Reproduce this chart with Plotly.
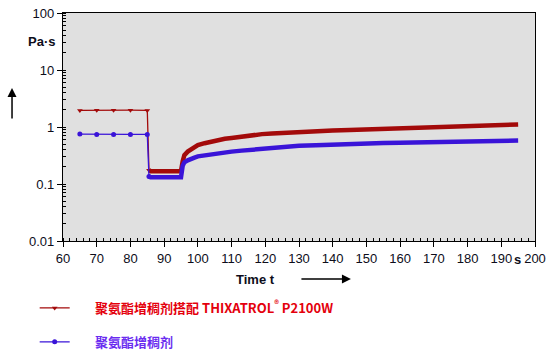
import plotly.graph_objects as go

# ---- data ----
t_sparse = [65, 70, 75, 80, 85]
red_sparse = [1.95, 1.97, 1.97, 1.97, 1.95]
blue_sparse = [0.75, 0.74, 0.74, 0.74, 0.74]

t_dense = [85.5, 86, 88, 90, 92, 94, 95, 95.5, 96, 97, 98, 99, 100, 102, 104, 106, 108, 110,
           113, 116, 119, 122, 125, 130, 135, 140, 145, 150, 155, 160, 165, 170, 175, 180,
           185, 190, 195]
red_dense = [0.175, 0.168, 0.167, 0.167, 0.167, 0.167, 0.168, 0.25, 0.32, 0.37, 0.41, 0.44,
             0.48, 0.52, 0.56, 0.59, 0.62, 0.64, 0.68, 0.72, 0.75, 0.77, 0.79, 0.82, 0.85,
             0.87, 0.89, 0.91, 0.93, 0.95, 0.98, 1.0, 1.02, 1.05, 1.07, 1.09, 1.11]
blue_dense = [0.135, 0.131, 0.131, 0.131, 0.131, 0.131, 0.131, 0.21, 0.24, 0.26, 0.28, 0.29,
              0.305, 0.32, 0.335, 0.345, 0.36, 0.37, 0.385, 0.40, 0.42, 0.44, 0.455, 0.47,
              0.48, 0.495, 0.505, 0.515, 0.525, 0.53, 0.54, 0.55, 0.56, 0.565, 0.57, 0.575,
              0.58]

x_ticks = [60, 70, 80, 90, 100, 110, 120, 130, 140, 150, 160, 170, 180, 190, 200]
y_ticks = [0.01, 0.1, 1, 10, 100]
y_tick_labels = ["0.01", "0.1", "1", "10", "100"]

red_name = "聚氨酯增稠剂搭配 THIXATROL<sup>®</sup> P2100W"
blue_name = "聚氨酯增稠剂"

RED = "#a30a0a"
BLUE = "#3a14d8"
RED_TXT = "#e4000c"
BLUE_TXT = "#6a2cf0"
PAD = "\u00a0" * 7

fig = go.Figure()

# thick dense segments (no legend)
fig.add_trace(go.Scatter(x=t_dense, y=red_dense, mode="lines",
                         line=dict(color=RED, width=4.5), showlegend=False, hoverinfo="skip"))
fig.add_trace(go.Scatter(x=t_dense, y=blue_dense, mode="lines",
                         line=dict(color=BLUE, width=4.5), showlegend=False, hoverinfo="skip"))

# sparse segments with markers, linked to the dense part
fig.add_trace(go.Scatter(x=t_sparse + t_dense[:1], y=red_sparse + red_dense[:1],
                         mode="lines+markers", legendgroup="r",
                         name=PAD + '<b><span style="color:%s">%s</span></b>' % (RED_TXT, red_name),
                         line=dict(color=RED, width=1.3),
                         marker=dict(symbol="triangle-down", size=5, color=RED)))
fig.add_trace(go.Scatter(x=t_sparse + t_dense[:1], y=blue_sparse + blue_dense[:1],
                         mode="lines+markers", legendgroup="b",
                         name=PAD + '<b><span style="color:%s">%s</span></b>' % (BLUE_TXT, blue_name),
                         line=dict(color=BLUE, width=1.3),
                         marker=dict(symbol="circle", size=5, color=BLUE)))

tickfont = dict(family="Liberation Sans, Arial, sans-serif", size=13, color="#0d0d1a")

fig.update_xaxes(range=[60, 200], tickvals=x_ticks, ticktext=[str(v) for v in x_ticks],
                 showgrid=False, zeroline=False, showline=True, linecolor="black",
                 linewidth=1.2, mirror=True, ticks="outside", ticklen=5, tickwidth=1.2,
                 tickcolor="black", tickfont=tickfont, automargin=False,
                 ticklabeloverflow="allow",
                 minor=dict(dtick=2, ticks="inside", ticklen=3, tickcolor="black",
                            tickwidth=1, showgrid=False))
fig.update_yaxes(type="log", range=[-2, 2], tickvals=y_ticks, ticktext=y_tick_labels,
                 showgrid=False, zeroline=False, showline=True, linecolor="black",
                 linewidth=1.2, mirror=True, ticks="outside", ticklen=5, tickwidth=1.2,
                 tickcolor="black", tickfont=tickfont, automargin=False,
                 ticklabeloverflow="allow",
                 minor=dict(dtick="D1", ticks="inside", ticklen=3, tickcolor="black",
                            tickwidth=1, showgrid=False))

bold = dict(family="Liberation Sans, Arial, sans-serif", size=13, color="#0d0d1a")

def label(text, x, y):
    return dict(text=text, xref="paper", yref="paper", x=x, y=y, xanchor="center",
                yanchor="middle", showarrow=False, font=bold)

fig.update_layout(
    width=550, height=355,
    margin=dict(l=63, r=15, t=13, b=114, autoexpand=False),
    paper_bgcolor="white", plot_bgcolor="#e0e0e0",
    showlegend=True,
    legend=dict(x=-0.06, y=-0.228, xanchor="left", yanchor="top",
                bgcolor="rgba(0,0,0,0)", tracegroupgap=14,
                font=dict(family="Noto Sans CJK SC, Liberation Sans, sans-serif",
                          size=13, color=RED_TXT)),
    annotations=[
        label("<b>Pa·s</b>", -0.0466, 0.873),
        label("<b>Time t</b>", 0.407, -0.1667),
        label("<b>s</b>", 0.962, -0.079),
        dict(text="", xref="paper", yref="paper", x=-0.108, y=0.671, ax=0, ay=32,
             showarrow=True, arrowhead=2, arrowsize=1.2, arrowwidth=1.5, arrowcolor="black"),
        dict(text="", xref="paper", yref="paper", x=0.610, y=-0.1667, ax=-51, ay=0,
             showarrow=True, arrowhead=2, arrowsize=1.2, arrowwidth=1.5, arrowcolor="black"),
    ],
)

fig.write_html("out.html", config={"displayModeBar": False},
               post_script="document.body.style.margin='0';document.body.style.overflow='hidden';")
